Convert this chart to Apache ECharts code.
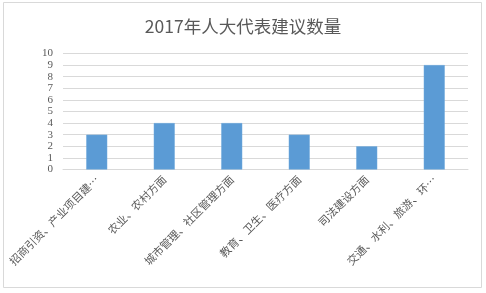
<!DOCTYPE html>
<html>
<head>
<meta charset="utf-8">
<script src="https://cdn.jsdelivr.net/npm/echarts@6/dist/echarts.min.js"></script>
<style>
html,body{margin:0;padding:0;background:#fff;}
#chart{width:486px;height:293px;}
</style>
</head>
<body>
<div id="chart"></div>
<script>
var titleText = '2017年人大代表建议数量';
var categories = ['招商引资、产业项目建…', '农业、农村方面', '城市管理、社区管理方面', '教育、卫生、医疗方面', '司法建设方面', '交通、水利、旅游、环…'];
var values = [3, 4, 4, 3, 2, 9];
var yTicks = [0, 10, 1];

var chart = echarts.init(document.getElementById('chart'), null, {renderer: 'canvas'});
chart.setOption({
  animation: false,
  backgroundColor: '#ffffff',
  graphic: [{
    type: 'rect',
    shape: {x: 3.5, y: 2.5, width: 478, height: 285},
    style: {fill: 'none', stroke: '#d9d9d9', lineWidth: 1}
  }],
  title: {
    text: titleText,
    left: 'center',
    top: 13,
    textStyle: {fontFamily: 'Noto Sans CJK SC', fontSize: 17.5, fontWeight: 'normal', color: '#595959'}
  },
  grid: {left: 63, right: 18, top: 53.5, bottom: 123.5, containLabel: false},
  xAxis: {
    type: 'category',
    data: categories,
    axisLine: {show: true, lineStyle: {color: '#d9d9d9'}},
    axisTick: {show: false},
    axisLabel: {
      rotate: 45,
      interval: 0,
      margin: 8,
      fontFamily: 'Noto Sans CJK SC',
      fontSize: 11,
      color: '#595959'
    }
  },
  yAxis: {
    type: 'value',
    min: yTicks[0],
    max: yTicks[1],
    interval: yTicks[2],
    axisLine: {show: false},
    axisTick: {show: false},
    splitLine: {lineStyle: {color: '#d9d9d9'}},
    axisLabel: {fontFamily: 'Liberation Serif', fontSize: 11, color: '#595959', margin: 10}
  },
  series: [{
    type: 'bar',
    data: values,
    barWidth: 21,
    itemStyle: {color: '#5b9bd5', borderColor: '#6fa8dc', borderWidth: 0.5}
  }]
});
</script>
</body>
</html>
